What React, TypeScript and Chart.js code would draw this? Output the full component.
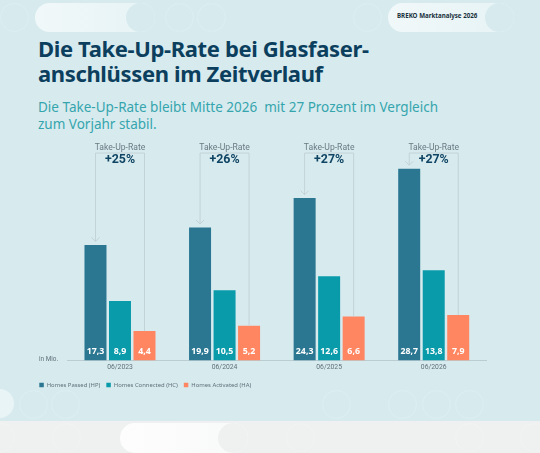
import React, { useEffect, useRef } from "react";
import { Chart, registerables } from "chart.js";

Chart.register(...registerables);

const periods = ["06/2023", "06/2024", "06/2025", "06/2026"];
const homesPassed = [17.3, 19.9, 24.3, 28.7];
// Bar heights as drawn in the picture: in 06/2026 the HC and HA bars are shorter than their printed labels.
const homesConnected = [8.9, 10.5, 12.6, 13.5];
const homesActivated = [4.4, 5.2, 6.6, 6.8];
const homesPassedLabels = ["17,3", "19,9", "24,3", "28,7"];
const homesConnectedLabels = ["8,9", "10,5", "12,6", "13,8"];
const homesActivatedLabels = ["4,4", "5,2", "6,6", "7,9"];
const takeUpRates = ["+25%", "+26%", "+27%", "+27%"];
const seriesNames = ["Homes Passed (HP)", "Homes Connected (HC)", "Homes Activated (HA)"];
const seriesColors = ["#2b7792", "#0a9bab", "#ff8661"];

const BODY = "'Noto Sans', sans-serif";
const LABEL = "Roboto, sans-serif";

const annotations = {
  id: "annotations",
  afterDatasetsDraw(chart: any) {
    const { ctx } = chart;
    const hp = chart.getDatasetMeta(0).data;
    const hc = chart.getDatasetMeta(1).data;
    const ha = chart.getDatasetMeta(2).data;
    const baseY = 351;
    const topY = 153;
    ctx.save();
    periods.forEach((_, i) => {
      const cx = hc[i].x;
      const left = hp[i].x;
      const right = ha[i].x;
      const tipY = hp[i].y - 3.5;
      ctx.strokeStyle = "#c3d2d6";
      ctx.lineWidth = 1;
      ctx.beginPath();
      ctx.moveTo(left, tipY);
      ctx.lineTo(left, topY);
      ctx.lineTo(right, topY);
      ctx.lineTo(right, ha[i].y);
      ctx.stroke();
      ctx.beginPath();
      ctx.moveTo(left - 4, tipY - 4);
      ctx.lineTo(left, tipY);
      ctx.lineTo(left + 4, tipY - 4);
      ctx.stroke();

      ctx.textAlign = "center";
      ctx.textBaseline = "middle";
      ctx.fillStyle = "#6a7a80";
      ctx.font = `400 8.6px ${LABEL}`;
      ctx.fillText("Take-Up-Rate", cx, 147.5);
      ctx.fillStyle = "#0f4463";
      ctx.font = `700 12.4px ${LABEL}`;
      ctx.fillText(takeUpRates[i], cx, 160);

      ctx.fillStyle = "#ffffff";
      ctx.font = `700 8.8px ${BODY}`;
      ctx.fillText(homesPassedLabels[i], left, baseY);
      ctx.fillText(homesConnectedLabels[i], cx, baseY);
      ctx.fillText(homesActivatedLabels[i], right, baseY);
    });
    ctx.textAlign = "left";
    ctx.fillStyle = "#5f7077";
    ctx.font = `400 6.4px ${LABEL}`;
    ctx.fillText("in Mio.", 39, 359);
    ctx.restore();
  },
};

const ring = (x: number, y: number) => (
  <div
    key={`${x}-${y}`}
    style={{
      position: "absolute",
      left: x - 14.5,
      top: y - 14.5,
      width: 29,
      height: 29,
      borderRadius: "50%",
      boxSizing: "border-box",
      border: "1px solid rgba(255,255,255,0.14)",
    }}
  />
);

const topRings = [14, 179, 211, 367];
const midRings = [33, 65, 336, 402, 436, 469];
const lowRings = [0, 66, 300, 469, 534];

function Pill({ left, top, width, height, endBg, fill }: any) {
  return (
    <div
      style={{
        position: "absolute",
        left,
        top,
        width,
        height,
        borderRadius: height / 2,
        overflow: "hidden",
        background: fill,
      }}
    >
      <div
        style={{
          position: "absolute",
          right: 0,
          top: 0,
          width: height,
          height,
          borderRadius: "50%",
          background: endBg,
        }}
      />
    </div>
  );
}

export default function App() {
  const ref = useRef<HTMLCanvasElement | null>(null);

  useEffect(() => {
    const chart = new Chart(ref.current as HTMLCanvasElement, {
      type: "bar",
      data: {
        labels: periods,
        datasets: [homesPassed, homesConnected, homesActivated].map((data, i) => ({
          label: seriesNames[i],
          data,
          backgroundColor: seriesColors[i],
          categoryPercentage: 0.703,
          barPercentage: 0.898,
        })),
      },
      options: {
        responsive: false,
        animation: false,
        devicePixelRatio: 1,
        layout: { padding: { left: 33.3, right: 54, top: 160, bottom: 55.1 } },
        plugins: {
          tooltip: { enabled: false },
          legend: {
            position: "bottom",
            align: "start",
            labels: {
              boxWidth: 4.5,
              boxHeight: 4.5,
              padding: 6,
              color: "#5f7077",
              font: { family: "'Noto Sans', sans-serif", size: 5.9 },
            },
          },
        },
        scales: {
          x: {
            afterFit: (a: any) => { a.height = 15.5; },
            grid: { display: false, drawTicks: false },
            border: { color: "#bccdd2", width: 1 },
            ticks: { color: "#5f7077", padding: 3, font: { family: "Roboto, sans-serif", size: 6.8 } },
          },
          y: {
            min: 0,
            max: 30,
            afterFit: (a: any) => { a.width = 34.4; },
            grid: { display: false },
            border: { display: false },
            ticks: { display: false },
          },
        },
      },
      plugins: [annotations],
    } as any);
    return () => chart.destroy();
  }, []);

  const tealFill = "linear-gradient(90deg,#f1f8f9 0%,#e6f3f5 100%)";

  return (
    <div style={{ position: "fixed", left: 0, top: 0, width: 540, height: 453, overflow: "hidden", background: "#d7ebef", fontFamily: BODY }}>
      <div style={{ position: "absolute", left: 0, top: 421, width: 540, height: 32, background: "#eff1f1" }} />
      {topRings.map((x) => ring(x, 17))}
      {midRings.map((x) => ring(x, 404))}
      {lowRings.map((x) => ring(x, 437))}
      <Pill left={35} top={3} width={120} height={29} endBg="#d7ebef" fill={tealFill} />
      <Pill left={388} top={3} width={126} height={29} endBg="#d7ebef" fill={tealFill} />
      <Pill left={120} top={423} width={128} height={30} endBg="#eff1f1" fill="linear-gradient(90deg,#fdfdfd 0%,#f8f9f9 100%)" />
      <div style={{ position: "absolute", left: -15, top: 389, width: 29, height: 29, borderRadius: "50%", background: "#e9f4f6" }} />

      <div style={{ position: "absolute", left: 397, top: 11, fontSize: 6.2, lineHeight: "10px", fontWeight: 700, color: "#17303c", whiteSpace: "nowrap" }}>
        BREKO Marktanalyse 2026
      </div>
      <div style={{ position: "absolute", left: 38, top: 36, fontSize: 22, lineHeight: "25px", letterSpacing: -0.36, fontWeight: 700, color: "#0c3f5e", whiteSpace: "nowrap" }}>
        Die Take-Up-Rate bei Glasfaser-
        <br />
        anschlüssen im Zeitverlauf
      </div>
      <div style={{ position: "absolute", left: 38, top: 98.5, fontSize: 13.5, lineHeight: "17.5px", color: "#35a5ad", whiteSpace: "pre" }}>
        {"Die Take-Up-Rate bleibt Mitte 2026  mit 27 Prozent im Vergleich\nzum Vorjahr stabil."}
      </div>
      <canvas ref={ref} width={540} height={453} style={{ position: "absolute", left: 0, top: 0, display: "block" }} />
    </div>
  );
}
